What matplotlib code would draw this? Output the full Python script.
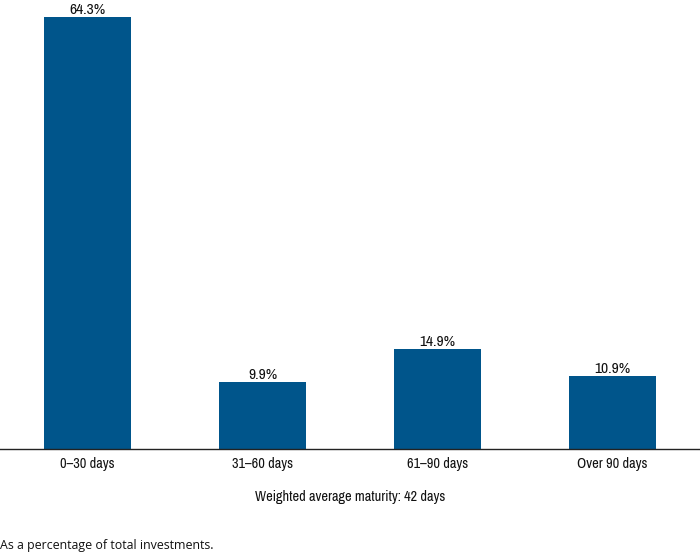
import matplotlib
matplotlib.use("Agg")
import matplotlib.pyplot as plt
from matplotlib import font_manager

categories = ["0\u201330 days", "31\u201360 days", "61\u201390 days", "Over 90 days"]
values = [64.3, 9.9, 14.9, 10.9]
value_labels = ["64.3%", "9.9%", "14.9%", "10.9%"]

names = sorted({f.name for f in font_manager.fontManager.ttflist})
cond = [n for n in names if ("Narrow" in n or "Condensed" in n)]
fam = cond[0] if cond else ("Roboto" if "Roboto" in names else "DejaVu Sans")
plt.rcParams['font.family'] = [fam, 'DejaVu Sans']
foot_fam = ["Open Sans", "DejaVu Sans"]

fig = plt.figure(figsize=(7.0, 5.56), dpi=100)
ax = fig.add_axes([0.0, 107/556, 1.0, 443.4/556])
x = list(range(len(categories)))
ax.bar(x, values, width=0.5, color="#00558B")
ax.set_xlim(-0.5, 3.5)
ax.set_ylim(0, 66.0)
for i, (v, lab) in enumerate(zip(values, value_labels)):
    ax.annotate(lab, (i, v), xytext=(0, 2.2), textcoords="offset points",
                ha="center", va="baseline", fontsize=11.2, color="#111111",
                annotation_clip=False)
ax.set_xticks(x)
ax.set_xticklabels(categories, fontsize=10.3, color="#111111")
ax.tick_params(axis="x", length=0, pad=6)
ax.set_yticks([])
for s in ["top", "right", "left"]:
    ax.spines[s].set_visible(False)
ax.spines["bottom"].set_color("#222222")
ax.spines["bottom"].set_linewidth(1.0)

fig.text(0.5, 1 - 497/556, "Weighted average maturity: 42 days", ha="center", va="center",
         fontsize=10.3, color="#111111")
fig.text(0.0, 1 - 546/556, "As a percentage of total investments.", ha="left", va="center",
         fontsize=8.95, color="#111111", family=foot_fam)

fig.savefig("out.png", dpi=100)
